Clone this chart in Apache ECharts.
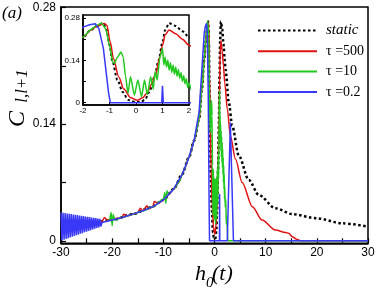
<!DOCTYPE html>
<html><head><meta charset="utf-8">
<script src="https://cdn.jsdelivr.net/npm/echarts@6/dist/echarts.min.js"></script>
<style>html,body{margin:0;padding:0;background:#fff}#c{width:379px;height:291px}</style>
</head><body><div id="c"></div>
<script>
// ---- data ----
const legendNames = ['static', 'τ =500', 'τ =10', 'τ =0.2'];
const mainXTicks = [-30, -20, -10, 0, 10, 20, 30];
const mainYLabels = [0, 0.14, 0.28];
const insetXTicks = [-2, -1, 0, 1, 2];
const insetYLabels = [0, 0.14, 0.28];

const staticH = [-30,-25,-20,-16,-12.5,-10,-8,-6.3,-5,-4,-3,-2.5,-2,-1.7,-1.5,-1.25,-1.1,-1.0,-0.9,-0.7,-0.5,-0.3,-0.15,0,0.2,0.35,0.5,0.7,0.85,1.0,1.1,1.25,1.5,1.75,2.0,2.15,2.8,3.45,4.75,6.7,8.66,11.9,15.2,20,25,30];
const staticC = [0.017,0.020,0.025,0.032,0.040,0.049,0.062,0.080,0.100,0.120,0.146,0.180,0.217,0.240,0.252,0.263,0.240,0.190,0.140,0.075,0.035,0.010,0.004,0.002,0.003,0.012,0.035,0.085,0.140,0.200,0.240,0.263,0.254,0.236,0.217,0.206,0.166,0.138,0.102,0.073,0.055,0.039,0.032,0.027,0.021,0.017];

const redH = [-23,-22,-21.5,-21,-20,-19,-18,-17.8,-17,-16,-15,-14.5,-14,-13.2,-13,-12,-11.8,-11,-10,-9,-8,-7,-6,-5,-4,-3,-2.5,-2,-1.7,-1.5,-1.2,-1.1,-0.97,-0.85,-0.65,-0.46,-0.2,0.05,0.25,0.43,0.6,0.74,0.9,1.0,1.1,1.25,1.5,1.75,2.0,2.5,3.1,4.1,5.4,7.4,9.3,11.9,13.9,14.5,15.2,16,16.8,30];
const redC = [0.022,0.023,0.028,0.025,0.026,0.027,0.028,0.032,0.030,0.032,0.034,0.039,0.036,0.042,0.038,0.041,0.047,0.045,0.049,0.055,0.062,0.070,0.084,0.100,0.120,0.146,0.180,0.217,0.240,0.252,0.262,0.256,0.200,0.145,0.085,0.045,0.016,0.008,0.016,0.034,0.063,0.095,0.150,0.190,0.225,0.240,0.228,0.210,0.190,0.158,0.126,0.098,0.070,0.041,0.025,0.013,0.010,0.009,0.005,0.002,0,0];

const greenH = [-21,-20.5,-20.2,-20,-19.8,-19.5,-18,-16,-14,-12,-10,-9.7,-9.5,-9.3,-9,-8,-7,-6,-5,-4,-3,-2.5,-2,-1.7,-1.5,-1.3,-1.15,-1.0,-0.88,-0.82,-0.7,-0.57,-0.48,-0.4,-0.3,-0.21,-0.06,0.07,0.21,0.32,0.43,0.55,0.65,0.72,0.8,0.9,1.0,1.05,1.1,1.15,1.2,1.25,1.3,1.35,1.4,1.45,1.5,1.55,1.6,1.65,1.7,1.75,1.8,1.85,1.9,1.95,2.0,2.1,2.2,2.3,2.4,2.6,30];
const greenC = [0.024,0.025,0.034,0.018,0.032,0.025,0.028,0.032,0.036,0.041,0.050,0.058,0.045,0.060,0.056,0.062,0.070,0.084,0.100,0.120,0.146,0.180,0.217,0.242,0.255,0.263,0.245,0.190,0.135,0.130,0.150,0.168,0.150,0.090,0.031,0.086,0.025,0.075,0.020,0.075,0.026,0.086,0.045,0.102,0.075,0.150,0.180,0.125,0.150,0.118,0.140,0.108,0.132,0.100,0.125,0.094,0.118,0.088,0.110,0.080,0.100,0.070,0.090,0.062,0.080,0.050,0.065,0.040,0.050,0.020,0.030,0,0];

const blueOscH = [-30,-29.8,-29.6,-29.4,-29.2,-29,-28.8,-28.6,-28.4,-28.2,-28,-27.8,-27.6,-27.4,-27.2,-27,-26.8,-26.6,-26.4,-26.2,-26,-25.8,-25.6,-25.4,-25.2,-25,-24.8,-24.6,-24.4,-24.2,-24,-23.8,-23.6,-23.4,-23.2,-23,-22.8,-22.6,-22.4,-22.2,-22];
const blueOscC = [0.034,0.0004,0.0336,0.0014,0.0332,0.0022,0.0328,0.0030,0.0324,0.0040,0.0320,0.0048,0.0316,0.0058,0.0312,0.0066,0.0308,0.0074,0.0304,0.0084,0.0300,0.0092,0.0296,0.0102,0.0292,0.0110,0.0288,0.0118,0.0284,0.0128,0.0280,0.0136,0.0276,0.0146,0.0272,0.0154,0.0268,0.0162,0.0264,0.0172,0.0220];
const blueH = [-20,-18,-16,-14,-12,-10,-8,-6.3,-5,-4,-3,-2.4,-2,-1.75,-1.54,-1.4,-1.23,-1.04,-0.97,0.97,1.0,1.03,2.5,3.1,3.7,30];
const blueC = [0.025,0.028,0.032,0.036,0.041,0.049,0.062,0.080,0.100,0.120,0.155,0.212,0.250,0.258,0.261,0.245,0.179,0.036,0,0,0.056,0,0,0.142,0,0];

// ---- chart ----
const pairs = (h, c) => h.map((x, i) => [x, c[i]]);
const SANS = '"Liberation Sans", Arial, sans-serif';
const SERIF = '"Liberation Serif", "Times New Roman", serif';
const COL = {s: '#000000', r: '#e01212', g: '#22c81e', b: '#3838f6'};

const seriesDefs = [
  {name: legendNames[0], data: pairs(staticH, staticC), color: COL.s, dash: [2.5, 2.5], w: 2.5, smooth: 0.3},
  {name: legendNames[1], data: pairs(redH, redC), color: COL.r, w: 1.5, smooth: 0.3},
  {name: legendNames[2], data: pairs(greenH, greenC), color: COL.g, w: 1.5, smooth: 0.2},
  {name: legendNames[3], data: pairs(blueOscH.concat(blueH), blueOscC.concat(blueC)), color: COL.b, w: 1.5, smooth: false}
];

const series = [];
[0, 1].forEach(g => {
  seriesDefs.forEach((d, k) => {
    series.push({
      type: 'line', name: d.name, xAxisIndex: g, yAxisIndex: g,
      data: d.data, symbol: 'none', showSymbol: false,
      smooth: d.smooth, smoothMonotone: 'x', clip: true,
      color: d.color,
      lineStyle: {color: d.color, width: g === 1 && k === 0 ? 2 : d.w, type: d.dash || 'solid', cap: 'butt'},
      z: 2 + g * 10 + k, animation: false
    });
  });
});

const axisCommon = {
  axisLine: {onZero: false, lineStyle: {color: '#000', width: 1.5}},
  splitLine: {show: false}
};

const option = {
  animation: false,
  backgroundColor: '#fff',
  grid: [
    {left: 61, right: 11, top: 7, bottom: 47.7, show: true, borderColor: '#000', borderWidth: 1.5, backgroundColor: 'transparent'},
    {left: 83, top: 15, width: 106, height: 90, show: true, borderColor: '#000', borderWidth: 1.5, backgroundColor: '#fff', z: 10}
  ],
  xAxis: [
    Object.assign({}, axisCommon, {
      type: 'value', gridIndex: 0, min: -30, max: 30, interval: 10,
      axisTick: {inside: true, length: 5, lineStyle: {color: '#000', width: 1.2}, customValues: [-30,-25,-20,-15,-10,-5,0,5,10,15,20,25,30]},
      axisLabel: {customValues: mainXTicks, margin: 3, fontSize: 12, color: '#000', fontFamily: SANS}
    }),
    Object.assign({}, axisCommon, {
      type: 'value', gridIndex: 1, min: -2, max: 2, interval: 1, z: 12,
      axisTick: {inside: true, length: 3, lineStyle: {color: '#000', width: 1}, customValues: insetXTicks},
      axisLabel: {customValues: insetXTicks, margin: 2, fontSize: 8, color: '#000', fontFamily: SANS}
    })
  ],
  yAxis: [
    Object.assign({}, axisCommon, {
      type: 'value', gridIndex: 0, min: -0.003, max: 0.2805,
      axisTick: {inside: true, length: 5, lineStyle: {color: '#000', width: 1.2}, customValues: [0, 0.07, 0.14, 0.21, 0.28]},
      axisLabel: {customValues: mainYLabels, margin: 5, fontSize: 12, color: '#000', fontFamily: SANS}
    }),
    Object.assign({}, axisCommon, {
      type: 'value', gridIndex: 1, min: -0.0076, max: 0.29, z: 12,
      axisTick: {inside: true, length: 3, lineStyle: {color: '#000', width: 1}, customValues: [0, 0.07, 0.14, 0.21, 0.28]},
      axisLabel: {customValues: insetYLabels, margin: 3, fontSize: 8, color: '#000', fontFamily: SANS}
    })
  ],
  legend: {
    data: legendNames, orient: 'vertical', left: 252, top: 18,
    itemWidth: 59, itemHeight: 14, itemGap: 6.3, selectedMode: false,
    itemStyle: {opacity: 0, borderWidth: 0},
    formatter: n => n === 'static' ? '{i|static}' : '{n|' + n + '}',
    textStyle: {color: '#000', rich: {
      i: {fontFamily: SERIF, fontStyle: 'italic', fontSize: 15, color: '#000', padding: [0, 0, 0, 4]},
      n: {fontFamily: SERIF, fontSize: 14, color: '#000', padding: [0, 0, 0, 4]}
    }}
  },
  graphic: [
    {type: 'text', x: 2, y: 14, z: 50, style: {text: '(a)', font: 'italic 17px ' + SERIF, fill: '#000', verticalAlign: 'middle'}},
    {type: 'text', x: 18, y: 119, rotation: Math.PI / 2, z: 50, style: {text: 'C', font: 'italic 24px ' + SERIF, fill: '#000', align: 'center', verticalAlign: 'middle'}},
    {type: 'text', x: 23, y: 86, rotation: Math.PI / 2, z: 50, style: {text: 'l,l+1', font: 'italic 17px ' + SERIF, fill: '#000', align: 'center', verticalAlign: 'middle'}},
    {type: 'text', x: 195, y: 274, z: 50, style: {text: 'h', font: 'italic 22px ' + SERIF, fill: '#000', verticalAlign: 'middle'}},
    {type: 'text', x: 206, y: 283, z: 50, style: {text: '0', font: 'italic 15px ' + SERIF, fill: '#000', verticalAlign: 'middle'}},
    {type: 'text', x: 212, y: 274, z: 50, style: {text: '(t)', font: 'italic 22px ' + SERIF, fill: '#000', verticalAlign: 'middle'}}
  ],
  series: series
};

const chart = echarts.init(document.getElementById('c'), null, {renderer: 'canvas'});
chart.setOption(option);
</script></body></html>
